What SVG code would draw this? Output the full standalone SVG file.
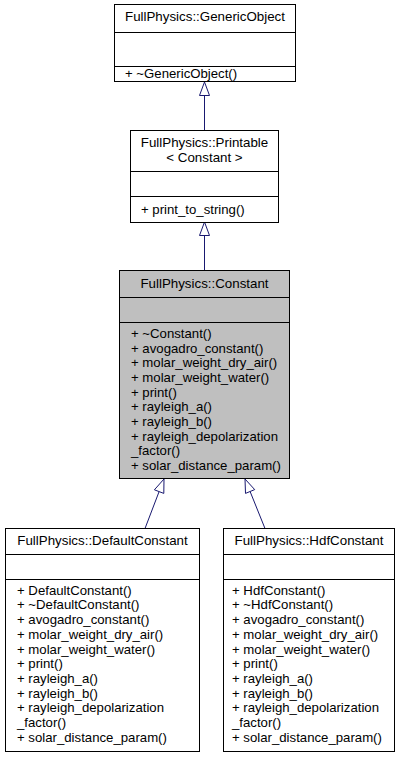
<svg xmlns="http://www.w3.org/2000/svg" width="400" height="757" viewBox="0 0 400 757">
<style>
  .box { fill: #ffffff; stroke: #000000; stroke-width: 1; }
  .cur { fill: #bfbfbf; stroke: #000000; stroke-width: 1; }
  .sep { stroke: #000000; stroke-width: 1; fill: none; }
  text { font-family: "Liberation Sans", Arial, sans-serif; font-size: 13.2px; fill: #000000; }
  .t { text-anchor: middle; font-size: 13.33px; }
  .edge { stroke: #191970; stroke-width: 1; fill: none; }
  .head { stroke: #191970; stroke-width: 1; fill: #ffffff; }
</style>
<rect width="400" height="757" fill="#ffffff"/>

<g id="edges">
  <line class="edge" x1="204.5" y1="130.5" x2="204.5" y2="95.5"/>
  <polygon class="head" points="204.5,82 199.5,95.5 209.5,95.5"/>
  <line class="edge" x1="204.5" y1="270.5" x2="204.5" y2="235.5"/>
  <polygon class="head" points="204.5,222 199.5,235.5 209.5,235.5"/>
  <line class="edge" x1="145" y1="528.5" x2="159.1" y2="491.6"/>
  <polygon class="head" points="164,479 154.4,489.8 163.8,493.4"/>
  <line class="edge" x1="265" y1="528.5" x2="250.1" y2="491.5"/>
  <polygon class="head" points="245,479 254.7,489.6 245.5,493.4"/>
</g>

<g id="GenericObject">
  <rect class="box" x="114.5" y="4.5" width="181" height="77"/>
  <line class="sep" x1="114.5" y1="32.5" x2="295.5" y2="32.5"/>
  <line class="sep" x1="114.5" y1="66.5" x2="295.5" y2="66.5"/>
  <text class="t" x="205" y="21">FullPhysics::GenericObject</text>
  <text x="125" y="78">+ ~GenericObject()</text>
</g>

<g id="Printable">
  <rect class="box" x="130.5" y="130.5" width="148" height="92"/>
  <line class="sep" x1="130.5" y1="171.5" x2="278.5" y2="171.5"/>
  <line class="sep" x1="130.5" y1="196.5" x2="278.5" y2="196.5"/>
  <text class="t" x="204.5" y="147">FullPhysics::Printable</text>
  <text class="t" x="204.5" y="162">&lt; Constant &gt;</text>
  <text x="141" y="214">+ print_to_string()</text>
</g>

<g id="Constant">
  <rect class="cur" x="119.5" y="270.5" width="170" height="208"/>
  <line class="sep" x1="119.5" y1="297.5" x2="289.5" y2="297.5"/>
  <line class="sep" x1="119.5" y1="322.5" x2="289.5" y2="322.5"/>
  <text class="t" x="204.5" y="288">FullPhysics::Constant</text>
  <text x="131" y="338">+ ~Constant()</text>
  <text x="131" y="352.7">+ avogadro_constant()</text>
  <text x="131" y="367.3">+ molar_weight_dry_air()</text>
  <text x="131" y="382">+ molar_weight_water()</text>
  <text x="131" y="396.7">+ print()</text>
  <text x="131" y="411.3">+ rayleigh_a()</text>
  <text x="131" y="426">+ rayleigh_b()</text>
  <text x="131" y="440.7">+ rayleigh_depolarization</text>
  <text x="131" y="455.3">_factor()</text>
  <text x="131" y="470">+ solar_distance_param()</text>
</g>

<g id="DefaultConstant">
  <rect class="box" x="5.5" y="528.5" width="194" height="223"/>
  <line class="sep" x1="5.5" y1="554.5" x2="199.5" y2="554.5"/>
  <line class="sep" x1="5.5" y1="579.5" x2="199.5" y2="579.5"/>
  <text class="t" x="102.5" y="545">FullPhysics::DefaultConstant</text>
  <text x="17" y="594.7">+ DefaultConstant()</text>
  <text x="17" y="609.4">+ ~DefaultConstant()</text>
  <text x="17" y="624.1">+ avogadro_constant()</text>
  <text x="17" y="638.8">+ molar_weight_dry_air()</text>
  <text x="17" y="653.5">+ molar_weight_water()</text>
  <text x="17" y="668.2">+ print()</text>
  <text x="17" y="682.9">+ rayleigh_a()</text>
  <text x="17" y="697.6">+ rayleigh_b()</text>
  <text x="17" y="712.3">+ rayleigh_depolarization</text>
  <text x="17" y="727">_factor()</text>
  <text x="17" y="741.7">+ solar_distance_param()</text>
</g>

<g id="HdfConstant">
  <rect class="box" x="223.5" y="528.5" width="171" height="223"/>
  <line class="sep" x1="223.5" y1="554.5" x2="394.5" y2="554.5"/>
  <line class="sep" x1="223.5" y1="579.5" x2="394.5" y2="579.5"/>
  <text class="t" x="309" y="545">FullPhysics::HdfConstant</text>
  <text x="232" y="594.7">+ HdfConstant()</text>
  <text x="232" y="609.4">+ ~HdfConstant()</text>
  <text x="232" y="624.1">+ avogadro_constant()</text>
  <text x="232" y="638.8">+ molar_weight_dry_air()</text>
  <text x="232" y="653.5">+ molar_weight_water()</text>
  <text x="232" y="668.2">+ print()</text>
  <text x="232" y="682.9">+ rayleigh_a()</text>
  <text x="232" y="697.6">+ rayleigh_b()</text>
  <text x="232" y="712.3">+ rayleigh_depolarization</text>
  <text x="232" y="727">_factor()</text>
  <text x="232" y="741.7">+ solar_distance_param()</text>
</g>
</svg>
